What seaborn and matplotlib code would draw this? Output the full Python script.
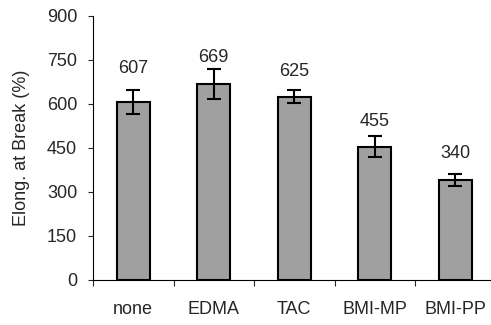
import numpy as np
import pandas as pd
import matplotlib
matplotlib.use('Agg')
import matplotlib.pyplot as plt
import seaborn as sns

# values
treatments = ['none', 'EDMA', 'TAC', 'BMI-MP', 'BMI-PP']
elongation = [607, 669, 625, 455, 340]
elong_err = [41, 51, 22, 37, 20]
label_offset_px = [25, 18, 17, 17, 18]  # gap between bar top and value label
y_ticks = [0, 150, 300, 450, 600, 750, 900]

sns.set_style('white')
plt.rcParams['font.family'] = ['Liberation Sans', 'DejaVu Sans']
fs = 13

df = pd.DataFrame({'treatment': treatments, 'elong': elongation})

fig = plt.figure(figsize=(4.91, 3.25), dpi=100)
# axes runs a little past the right edge, as in the reference
ax = fig.add_axes([93 / 491, 45 / 325, 402.5 / 491, 264 / 325])

sns.barplot(data=df, x='treatment', y='elong', color='#a0a0a0', saturation=1,
            edgecolor='black', linewidth=1.5, width=0.41, errorbar=None, ax=ax)
ax.errorbar(np.arange(len(treatments)), elongation, yerr=elong_err, fmt='none',
            ecolor='black', elinewidth=1.5, capsize=4.7, capthick=1.5)

# value labels above each bar
for i, (v, off) in enumerate(zip(elongation, label_offset_px)):
    ax.annotate(str(v), (i, v), xytext=(0, off * 0.72), textcoords='offset points',
                ha='center', va='bottom', fontsize=fs)

ax.set_ylim(0, 900)
ax.set_yticks(y_ticks)
ax.set_xlim(-0.5, len(treatments) - 0.5)
ax.set_xlabel('')
ax.set_ylabel('Elong. at Break (%)', fontsize=fs, labelpad=12)

# tick marks between categories, labels under the bars
ax.set_xticks(np.arange(len(treatments) + 1) - 0.5, minor=True)
ax.tick_params(axis='x', which='major', length=0, pad=15, labelsize=fs)
ax.tick_params(axis='x', which='minor', length=4, width=0.8, direction='out', bottom=True)
ax.tick_params(axis='y', length=3.4, width=0.8, direction='out', left=True, pad=8, labelsize=fs)

for s in ['top', 'right']:
    ax.spines[s].set_visible(False)
for s in ['left', 'bottom']:
    ax.spines[s].set_color('black')
    ax.spines[s].set_linewidth(0.8)

fig.savefig('out.png', dpi=100)
